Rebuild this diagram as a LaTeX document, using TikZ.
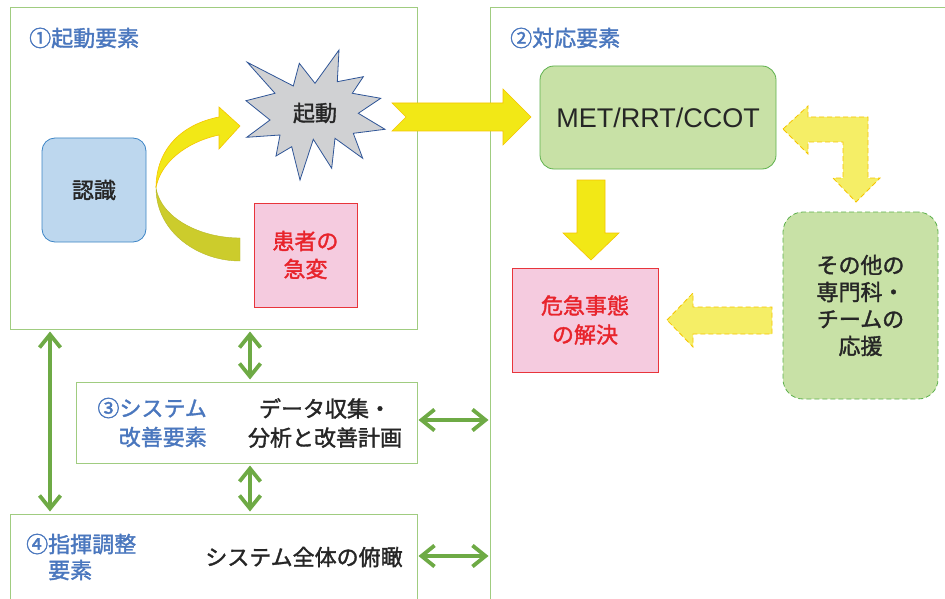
\documentclass[tikz,border=0pt]{standalone}
\usepackage{fontspec}
\setmainfont{Noto Sans CJK JP}[BoldFont=Noto Sans CJK JP,BoldFeatures={FakeBold=1.6}]
\newfontfamily\latinsf{Liberation Sans}
\usetikzlibrary{arrows.meta}
\definecolor{framegreen}{HTML}{A0CC80}
\definecolor{arrowgreen}{HTML}{6EAA45}
\definecolor{lgreen}{HTML}{C8E1A6}
\definecolor{metborder}{HTML}{5FB14E}
\definecolor{pinkfill}{HTML}{F5CBDF}
\definecolor{redline}{HTML}{E8353B}
\definecolor{redtext}{HTML}{E8242C}
\definecolor{bluefill}{HTML}{BDD7EE}
\definecolor{blueline}{HTML}{3D85C6}
\definecolor{starfill}{HTML}{D0D1D3}
\definecolor{starline}{HTML}{2F5597}
\definecolor{yel}{HTML}{F2E816}
\definecolor{yelline}{HTML}{F5C400}
\definecolor{yellight}{HTML}{F5EE66}
\definecolor{yeldark}{HTML}{CCCC2C}
\definecolor{titleblue}{HTML}{4A77BE}
\definecolor{darktext}{HTML}{262626}
\begin{document}
\begin{tikzpicture}[x=1pt,y=-1pt,
  frame/.style={draw=framegreen,line width=1pt,inner sep=0pt,fill=white},
  jtext/.style={font=\fontsize{22}{28}\selectfont\bfseries,text=darktext,align=center,inner sep=0pt},
  title/.style={font=\fontsize{22}{26}\selectfont\bfseries,text=titleblue,inner sep=0pt},
  bluebox/.style={draw=blueline,fill=bluefill,line width=0.8pt,rounded corners=13pt,minimum width=104pt,minimum height=104pt,inner sep=0pt},
  pinkbox/.style={draw=redline,fill=pinkfill,line width=0.8pt,inner sep=0pt,text=redtext},
  greenbox/.style={draw=metborder,fill=lgreen,line width=0.8pt,inner sep=0pt},
  blockarrow/.style={fill=yel,draw=yelline,line width=0.6pt,line join=miter},
  dasharrow/.style={fill=yellight,draw=yelline,line width=0.8pt,dash pattern=on 5pt off 3pt},
  garrow/.style={draw=arrowgreen,line width=3.8pt,{Straight Barb[length=13pt,width=21pt,line width=3.8pt]}-{Straight Barb[length=13pt,width=21pt,line width=3.8pt]}}
]
\useasboundingbox (0,0) rectangle (945,599);
\clip (0,0) rectangle (945,599);

% frames
\node[frame,minimum width=470pt,minimum height=612pt] (b2) at (725,314) {};
\node[frame,minimum width=407pt,minimum height=321pt] (b1) at (213.5,168.5) {};
\node[frame,minimum width=341pt,minimum height=81pt] (b3) at (246.5,422.5) {};
\node[frame,minimum width=407pt,minimum height=106pt] (b4) at (213.5,567) {};

% titles
\node[title,anchor=west] (t1) at (29,38) {①起動要素};
\node[title,anchor=west] (t2) at (510,38) {②対応要素};
\node[title,align=right,anchor=east,font=\fontsize{22}{29}\selectfont\bfseries] (t3) at (207,422.5) {③システム\\改善要素};
\node[jtext,font=\fontsize{22}{29}\selectfont\bfseries] (t3r) at (325,423) {データ収集・\\分析と改善計画};
\node[title,align=left,anchor=west] (t4) at (26,557) {④指揮調整\\\hspace*{1em}要素};
\node[jtext] (t4r) at (304,557) {システム全体の俯瞰};

% element 1
\node[bluebox,jtext] (nin) at (94,190) {認識};
\draw[fill=starfill,draw=starline,line width=0.8pt,line join=miter]
 (247.3,62.3) -- (293.3,86) -- (299.3,63.3) -- (315,83.3) -- (339,50) -- (337.3,81.7)
 -- (363.3,76.7) -- (352.3,93.3) -- (380.7,98.3) -- (358.3,113.3) -- (385,129.3)
 -- (353.3,133.3) -- (362.7,158.3) -- (335,138.3) -- (331.7,168.3) -- (313.3,139.3)
 -- (300,180) -- (291.7,146.7) -- (276,156) -- (280,135) -- (246.7,137.3) -- (270,120)
 -- (246,100.7) -- (275,93.3) -- cycle;
\node[jtext] (kido) at (315,113) {起動};
\node[pinkbox,jtext,text=redtext,minimum width=103pt,minimum height=104pt] (kan) at (305.5,255) {患者の\\急変};

% curved arrow
\draw[fill=yeldark,draw=yeldark!90!black,line width=0.4pt]
 (156,188) .. controls (156,232) and (198,261) .. (240,261) -- (240,238)
 .. controls (200,238) and (161,218) .. (156,188) -- cycle;
\draw[blockarrow]
 (156,188) .. controls (156,148) and (183,124) .. (219,117) -- (219,107) -- (240,126)
 -- (219,149) -- (219,135) .. controls (186,142) and (160,163) .. (156,188) -- cycle;

% big arrow to MET
\draw[blockarrow] (392,103) -- (503,103) -- (503,89) -- (531,117) -- (503,145)
 -- (503,131) -- (392,131) -- (406,117) -- cycle;

% element 2
\node[greenbox,rounded corners=14pt,minimum width=236pt,minimum height=103pt,font=\latinsf\fontsize{27}{30}\selectfont,text=darktext] (met) at (658,117.5) {MET/RRT/CCOT};
\node[pinkbox,jtext,text=redtext,minimum width=146pt,minimum height=104pt,font=\fontsize{22}{29}\selectfont\bfseries] (kik) at (585,320) {危急事態\\の解決};
\node[greenbox,dash pattern=on 5pt off 3pt,rounded corners=20pt,minimum width=155pt,minimum height=187pt,jtext,font=\fontsize{22}{27}\selectfont\bfseries] (sono) at (860.5,305.5) {その他の\\専門科・\\チームの\\応援};

\draw[blockarrow] (577,180) -- (605,180) -- (605,233) -- (619,233) -- (591,260)
 -- (563,233) -- (577,233) -- cycle;
\draw[dasharrow] (783,129) -- (808,106) -- (808,117) -- (868,117) -- (868,178)
 -- (880,178) -- (856,202) -- (833,178) -- (843,178) -- (843,142) -- (808,142)
 -- (808,154) -- cycle;
\draw[dasharrow] (667,320) -- (693,293) -- (693,307) -- (772,307) -- (772,334)
 -- (693,334) -- (693,347) -- cycle;

% green double arrows
\coordinate (xL) at (50,0);
\coordinate (xM) at (250,0);
\coordinate (yA) at (0,420);
\coordinate (yB) at (0,556);
\draw[garrow,shorten <=2pt,shorten >=2pt] (xL |- b1.south) -- (xL |- b4.north);
\draw[garrow,shorten <=2pt,shorten >=2pt] (xM |- b1.south) -- (xM |- b3.north);
\draw[garrow,shorten <=2pt,shorten >=2pt] (xM |- b3.south) -- (xM |- b4.north);
\draw[garrow,shorten <=1pt,shorten >=1pt] (b3.east |- yA) -- (b2.west |- yA);
\draw[garrow,shorten <=1pt,shorten >=1pt] (b4.east |- yB) -- (b2.west |- yB);
\end{tikzpicture}
\end{document}
